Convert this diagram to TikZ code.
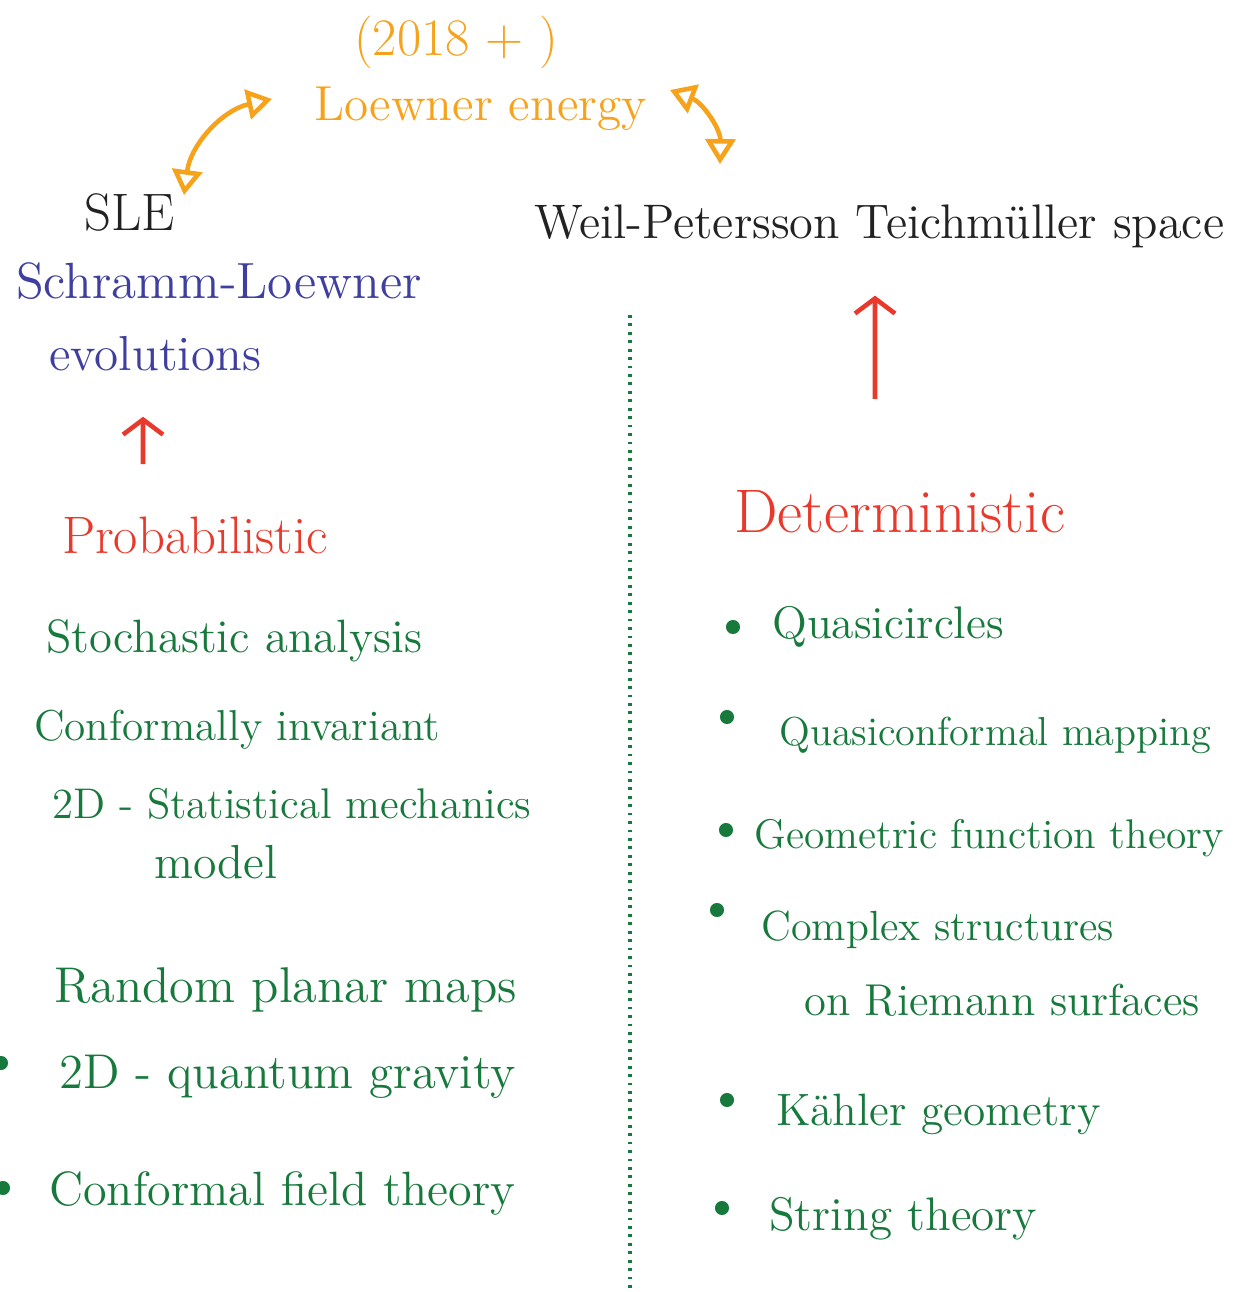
\documentclass[tikz,border=0pt]{standalone}
\usetikzlibrary{arrows.meta,positioning}

\definecolor{penorange}{HTML}{F7A21B}
\definecolor{penblue}{HTML}{3F3FA0}
\definecolor{penred}{HTML}{E8392C}
\definecolor{pengreen}{HTML}{17793C}
\definecolor{penblack}{HTML}{222222}

\begin{document}
\begin{tikzpicture}
  [txt/.style={%
      inner sep=1pt, anchor=base west,
      font=\fontsize{#1}{#1}\selectfont
    },
    orangetxt/.style={txt=#1, text=penorange},
    bluetxt/.style={txt=#1, text=penblue},
    redtxt/.style={txt=#1, text=penred},
    greentxt/.style={txt=#1, text=pengreen},
    blacktxt/.style={txt=#1, text=penblack},
    bullet/.style={%
      circle, fill=pengreen, inner sep=0pt, minimum size=4pt
    },
    orangearrow/.style={%
      draw=penorange, line width=1.3pt,
      {Triangle[open,length=2.5mm,width=3mm]}-{Triangle[open,length=2.5mm,width=3mm]}
    },
    redarrow/.style={%
      draw=penred, line width=1.3pt,
      -{Straight Barb[length=1.5mm,width=4mm]}
    },
  ]

  \useasboundingbox[fill=white] (0,0) rectangle (12.36,-12.92);

  % top
  \node[orangetxt=15] (yr) at (3.50,-0.55) {(2018 + )};
  \node[orangetxt=14] (le) at (3.10,-1.20) {Loewner energy};
  \node[blacktxt=15] (sle) at (0.80,-2.30) {SLE};
  \node[blacktxt=13.8] (wp) at (5.30,-2.38) {Weil-Petersson Teichmüller space};
  \node[bluetxt=14.5] (sl) at (0.12,-2.98) {Schramm-Loewner};
  \node[bluetxt=14] (evo) at (0.45,-3.70) {evolutions};

  % arrow ends near the labels
  \coordinate (leleft) at (2.72,-0.99);
  \coordinate (sletip) at (1.84,-1.95);
  \coordinate (leright) at (6.70,-0.90);
  \coordinate (wptip) at (7.20,-1.64);
  \draw[orangearrow] (leleft) to[bend right=35] (sletip);
  \draw[orangearrow] (leright) to[bend left=35] (wptip);

  % two sides
  \node[redtxt=15] (prob) at (0.58,-5.53) {Probabilistic};
  \node[redtxt=17.5] (det) at (7.30,-5.32) {Deterministic};

  \draw[redarrow, shorten <=0.48cm, shorten >=0.42cm]
    ([xshift=0.85cm]prob.north west) -- ([xshift=0.98cm]evo.south west);
  \draw[redarrow, shorten <=0.87cm, shorten >=0.44cm]
    ([xshift=1.45cm]det.north west) -- ([xshift=3.45cm]wp.south west);

  \coordinate (divtop) at (6.30,-3.15);
  \coordinate (divbot) at (6.30,-12.92);
  \draw[pengreen, line width=1pt, dash pattern=on 0.8pt off 1.6pt] (divtop) -- (divbot);

  % left list
  \node[greentxt=13.3] (sa) at (0.42,-6.52) {Stochastic analysis};
  \node[greentxt=12.3] (ci) at (0.30,-7.40) {Conformally invariant};
  \node[greentxt=12.2] (sm) at (0.48,-8.18) {2D - Statistical mechanics};
  \node[greentxt=13.6] (mo) at (1.50,-8.78) {model};
  \node[greentxt=14.3] (rp) at (0.50,-10.02) {Random planar maps};
  \node[greentxt=13.9] (qg) at (0.55,-10.88) {2D - quantum gravity};
  \node[greentxt=13.7] (cf) at (0.45,-12.05) {Conformal field theory};
  \node[bullet] (bqg) at (0.01,-10.63) {};
  \node[bullet] (bcf) at (0.03,-11.88) {};

  % right list
  \node[greentxt=13] (qc) at (7.68,-6.38) {Quasicircles};
  \node[greentxt=11.5] (qm) at (7.75,-7.45) {Quasiconformal mapping};
  \node[greentxt=11.8] (gf) at (7.50,-8.48) {Geometric function theory};
  \node[greentxt=12] (cs) at (7.57,-9.40) {Complex structures};
  \node[greentxt=12.7] (rs) at (8.00,-10.15) {on Riemann surfaces};
  \node[greentxt=12.9] (kg) at (7.72,-11.25) {Kähler geometry};
  \node[greentxt=13.4] (st) at (7.65,-12.30) {String theory};
  \node[bullet] (bqc) at (7.33,-6.27) {};
  \node[bullet] (bqm) at (7.27,-7.17) {};
  \node[bullet] (bgf) at (7.26,-8.30) {};
  \node[bullet] (bcs) at (7.17,-9.10) {};
  \node[bullet] (bkg) at (7.27,-11.00) {};
  \node[bullet] (bst) at (7.22,-12.08) {};

\end{tikzpicture}
\end{document}
